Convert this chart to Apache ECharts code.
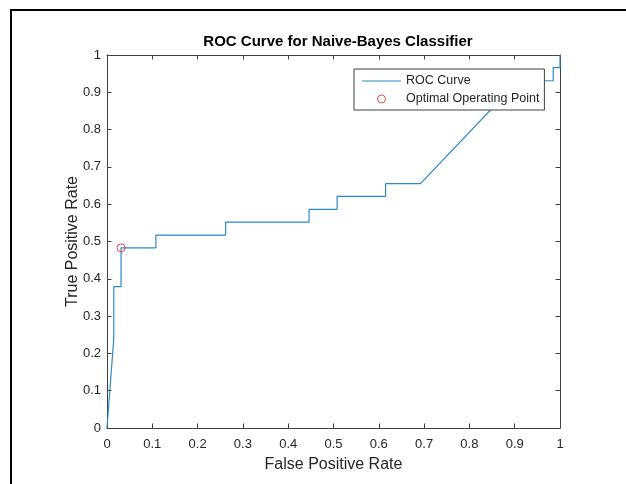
<!DOCTYPE html>
<html>
<head>
<meta charset="utf-8">
<script src="https://cdn.jsdelivr.net/npm/echarts@6/dist/echarts.min.js"></script>
<style>
html,body{margin:0;padding:0;background:#fff;}
#chart{width:626px;height:484px;}
</style>
</head>
<body>
<div id="chart"></div>
<script>
// ROC curve points (False Positive Rate, True Positive Rate)
var fpr = [0, 0.015, 0.015, 0.031, 0.031, 0.108, 0.108, 0.262, 0.262, 0.446, 0.446, 0.508, 0.508, 0.615, 0.615, 0.692, 0.908, 0.985, 0.985, 1, 1];
var tpr = [0, 0.241, 0.379, 0.379, 0.483, 0.483, 0.517, 0.517, 0.552, 0.552, 0.586, 0.586, 0.621, 0.621, 0.655, 0.655, 0.931, 0.931, 0.966, 0.966, 1];
// Optimal operating point
var optX = [0.031];
var optY = [0.483];
var xTicks = [0, 0.1, 0.2, 0.3, 0.4, 0.5, 0.6, 0.7, 0.8, 0.9, 1];
var yTicks = [0, 0.1, 0.2, 0.3, 0.4, 0.5, 0.6, 0.7, 0.8, 0.9, 1];
var titleText = 'ROC Curve for Naive-Bayes Classifier';
var xName = 'False Positive Rate';
var yName = 'True Positive Rate';
var seriesNames = ['ROC Curve', 'Optimal Operating Point'];

var rocData = fpr.map(function (x, i) { return [x, tpr[i]]; });
var optData = optX.map(function (x, i) { return [x, optY[i]]; });

var FONT = 'Liberation Sans, Arial, sans-serif';
var AX = '#404040';
var TXT = '#262626';
var LINE = '#2a8acb';
var RED = '#e0202a';

function axisCommon(extra) {
  var base = {
    type: 'value', min: 0, max: 1, interval: 0.1,
    splitLine: { show: false },
    axisLine: { show: true, onZero: false, lineStyle: { color: AX, width: 1 } },
    axisTick: { show: true, inside: true, length: 4.5, lineStyle: { color: AX, width: 1 } }
  };
  for (var k in extra) base[k] = extra[k];
  return base;
}

function fmt(v) { return String(Math.round(v * 10) / 10); }

var chart = echarts.init(document.getElementById('chart'), null, { renderer: 'canvas' });
chart.setOption({
  backgroundColor: '#ffffff',
  animation: false,
  title: {
    text: titleText,
    left: 333, top: 29, textAlign: 'center',
    textStyle: { fontFamily: FONT, fontSize: 15, fontWeight: 'bold', color: '#000' }
  },
  grid: { left: 107, top: 55, width: 453, height: 373, containLabel: false },
  xAxis: [
    axisCommon({
      position: 'bottom',
      name: xName, nameLocation: 'middle', nameGap: 29,
      nameTextStyle: { fontFamily: FONT, fontSize: 16, color: TXT },
      axisLabel: { show: true, margin: 10, fontFamily: FONT, fontSize: 13, color: TXT, formatter: fmt }
    }),
    axisCommon({ position: 'top', axisLabel: { show: false } })
  ],
  yAxis: [
    axisCommon({
      position: 'left',
      name: yName, nameLocation: 'middle', nameGap: 26, nameMoveOverlap: false,
      nameTextStyle: { fontFamily: FONT, fontSize: 16, color: TXT },
      axisLabel: { show: true, margin: 6, fontFamily: FONT, fontSize: 13, color: TXT, formatter: fmt }
    }),
    axisCommon({ position: 'right', axisLabel: { show: false } })
  ],
  legend: {
    orient: 'vertical',
    left: 354, top: 69,
    padding: [5, 5, 4, 8],
    itemGap: 4,
    itemWidth: 39, itemHeight: 8,
    backgroundColor: '#ffffff',
    borderColor: AX, borderWidth: 1, borderRadius: 0,
    textStyle: { fontFamily: FONT, fontSize: 12.5, color: TXT, lineHeight: 14 },
    data: [
      { name: seriesNames[0], icon: 'path://M0,0L40,0L40,1L0,1Z', itemStyle: { color: LINE } },
      { name: seriesNames[1], icon: 'circle', itemStyle: { color: 'rgba(0,0,0,0)', borderColor: RED, borderWidth: 1 } }
    ]
  },
  series: [
    {
      name: seriesNames[0], type: 'line', xAxisIndex: 0, yAxisIndex: 0,
      data: rocData, symbol: 'none', showSymbol: false,
      lineStyle: { color: LINE, width: 1.2 }, itemStyle: { color: LINE }, z: 2
    },
    {
      name: seriesNames[1], type: 'scatter', xAxisIndex: 0, yAxisIndex: 0,
      data: optData, symbol: 'circle', symbolSize: 8,
      itemStyle: { color: 'rgba(0,0,0,0)', borderColor: RED, borderWidth: 1 }, z: 3
    }
  ],
  graphic: [
    { type: 'line', shape: { x1: 10, y1: 10, x2: 626, y2: 10 }, style: { stroke: '#000', lineWidth: 2 }, silent: true },
    { type: 'line', shape: { x1: 11, y1: 10, x2: 11, y2: 484 }, style: { stroke: '#000', lineWidth: 2 }, silent: true }
  ]
});
</script>
</body>
</html>
